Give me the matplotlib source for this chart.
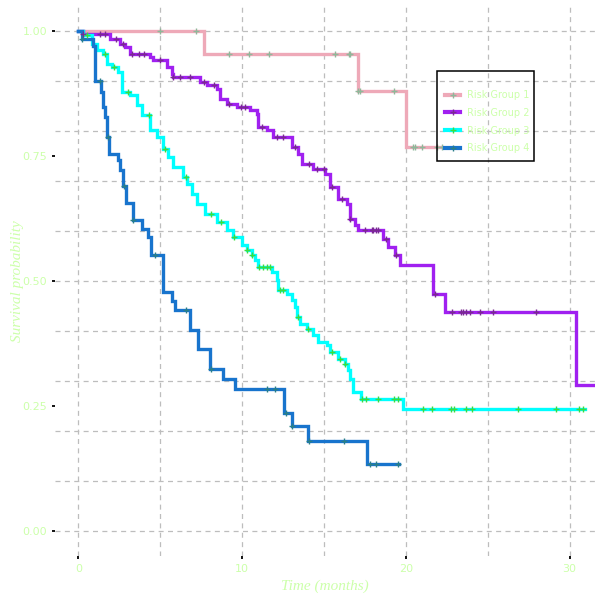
import numpy as np
import matplotlib
matplotlib.use("Agg")
import matplotlib.pyplot as plt
from matplotlib.ticker import MultipleLocator
from matplotlib.lines import Line2D
from matplotlib.patches import Rectangle

# ---------------- data ----------------
groups = ["Risk Group 1", "Risk Group 2", "Risk Group 3", "Risk Group 4"]

g1_time = [0, 7.67, 17.06, 19.99]
g1_surv = [1.0, 0.954, 0.88, 0.768]
g1_end = 22.2
g1_cens = [4.98, 7.18, 9.2, 10.4, 11.65, 15.7, 16.5, 16.6, 17.08, 17.2, 19.3,
           20.46, 20.55, 20.97, 21.9, 22.2]

g2_time = [0, 0.25, 1.93, 2.54, 2.85, 3.15, 4.37, 4.58, 5.39, 5.7, 5.8, 7.43, 7.84,
           8.45, 8.65, 9.06, 9.67, 10.48, 10.89, 10.99, 11.5, 11.9, 13.03, 13.43,
           13.64, 14.35, 15.07, 15.37, 15.88, 16.39, 16.59, 16.9, 17.1, 18.63,
           18.93, 19.34, 19.65, 21.68, 22.4, 30.4]
g2_surv = [1.0, 0.995, 0.985, 0.975, 0.969, 0.955, 0.949, 0.942, 0.929, 0.915, 0.909,
           0.899, 0.892, 0.885, 0.865, 0.855, 0.849, 0.842, 0.835, 0.809, 0.802,
           0.789, 0.769, 0.755, 0.735, 0.725, 0.715, 0.689, 0.665, 0.655, 0.625,
           0.612, 0.602, 0.585, 0.569, 0.552, 0.532, 0.475, 0.439, 0.292]
g2_end = 31.6
g2_cens = [0.3, 1.3, 1.6, 2.3, 2.7, 3.3, 3.7, 4.0, 5.0, 5.8, 6.2, 6.8, 7.7, 8.3, 9.2,
           9.9, 10.2, 11.2, 12.1, 12.5, 13.2, 14.1, 14.6, 15.0, 15.5, 16.1, 16.6,
           17.5, 17.9, 18.0, 18.2, 18.3, 18.8, 19.4, 21.8, 22.8, 23.37, 23.47,
           23.68, 23.92, 24.53, 25.3, 27.95]

g3_time = [0, 0.3, 0.81, 1.11, 1.52, 1.73, 2.03, 2.44, 2.65, 3.15, 3.56, 3.87, 4.37,
           4.78, 5.19, 5.49, 5.8, 6.41, 6.62, 6.92, 7.23, 7.73, 8.45, 9.06, 9.46,
           9.98, 10.28, 10.59, 10.79, 10.99, 11.8, 12.1, 12.2, 12.72, 13.03, 13.23,
           13.34, 13.54, 13.95, 14.35, 14.65, 15.17, 15.37, 15.88, 16.29, 16.49,
           16.59, 16.8, 17.26, 19.85]
g3_surv = [1.0, 0.992, 0.975, 0.962, 0.955, 0.935, 0.929, 0.919, 0.879, 0.872, 0.852,
           0.832, 0.802, 0.789, 0.765, 0.749, 0.729, 0.709, 0.695, 0.675, 0.655,
           0.635, 0.619, 0.602, 0.589, 0.572, 0.562, 0.552, 0.542, 0.529, 0.519,
           0.502, 0.482, 0.475, 0.462, 0.449, 0.429, 0.415, 0.405, 0.392, 0.379,
           0.372, 0.359, 0.345, 0.335, 0.322, 0.305, 0.279, 0.264, 0.244]
g3_end = 30.95
g3_cens = [0.5, 1.6, 2.2, 3.0, 4.3, 5.3, 6.6, 8.1, 8.7, 9.5, 10.3, 10.6, 11.0, 11.3,
           11.5, 11.7, 12.3, 12.5, 13.4, 14.0, 15.5, 16.0, 16.3, 17.3, 17.57, 18.28,
           19.3, 19.5, 21.03, 21.58, 22.76, 22.94, 23.66, 24.06, 26.87, 29.17, 30.6,
           30.8]

g4_time = [0, 0.2, 0.87, 1.0, 1.36, 1.52, 1.62, 1.73, 1.87, 2.44, 2.54, 2.74, 2.9,
           3.32, 3.87, 4.27, 4.43, 5.15, 5.7, 5.9, 6.8, 7.32, 8.04, 8.81, 9.57,
           12.58, 13.07, 14.05, 17.61]
g4_surv = [1.0, 0.985, 0.97, 0.90, 0.879, 0.849, 0.829, 0.788, 0.755, 0.742, 0.723,
           0.69, 0.657, 0.623, 0.605, 0.589, 0.552, 0.479, 0.461, 0.442, 0.402,
           0.365, 0.325, 0.304, 0.285, 0.237, 0.211, 0.181, 0.135]
g4_end = 19.58
g4_cens = [0.2, 1.32, 1.83, 2.8, 3.35, 4.68, 6.55, 8.08, 11.5, 12.0, 12.68, 13.07,
           14.1, 16.2, 17.8, 18.2, 19.54]

x_ticks = [0, 10, 20, 30]
y_ticks = [0.0, 0.25, 0.50, 0.75, 1.00]
y_ticklabels = ["0.00", "0.25", "0.50", "0.75", "1.00"]

# ---------------- style ----------------
line_colors = ["#EEA9B8", "#A020F0", "#00FFFF", "#1874CD"]
cens_colors = ["#8fb89a", "#7a2a90", "#3ddc3d", "#2a7f86"]
text_color = "#ccffaa"

series = [
    (g1_time, g1_surv, g1_end, g1_cens),
    (g2_time, g2_surv, g2_end, g2_cens),
    (g3_time, g3_surv, g3_end, g3_cens),
    (g4_time, g4_surv, g4_end, g4_cens),
]

fig = plt.figure(figsize=(6, 6), dpi=100)
W, H = 600, 600
ax = fig.add_axes([55 / W, 1 - 556 / H, (595 - 55) / W, (556 - 6) / H])
ax.set_facecolor("none")
fig.patch.set_facecolor("white")

for (t, s, end, cens), lc, cc in zip(series, line_colors, cens_colors):
    tt = np.array(list(t) + [end])
    ss = np.array(list(s) + [s[-1]])
    ax.step(tt, ss, where="post", color=lc, lw=2.4, zorder=3, solid_joinstyle="miter")
    c = np.array(cens)
    idx = np.searchsorted(np.array(t), c, side="right") - 1
    cy = np.array(s)[idx]
    ax.plot(c, cy, linestyle="none", marker="+", ms=5, mew=1.0, color=cc, zorder=4)

ax.set_xlim(-1.43, 31.55)
ax.set_ylim(-0.05, 1.05)

ax.set_xticks(x_ticks)
ax.set_xticklabels([str(v) for v in x_ticks])
ax.set_yticks(y_ticks)
ax.set_yticklabels(y_ticklabels)
ax.xaxis.set_minor_locator(MultipleLocator(5))
ax.yaxis.set_minor_locator(MultipleLocator(0.1))
ax.xaxis.remove_overlapping_locs = False
ax.yaxis.remove_overlapping_locs = False
ax.grid(False, which="major")
ax.grid(True, which="minor", color="#bdbdbd", linestyle=(0, (4, 3.5)), lw=0.9)
ax.set_axisbelow(True)

ax.tick_params(which="minor", length=0)
ax.tick_params(which="major", length=2.5, width=1.3, color="black",
               labelcolor=text_color, labelsize=8, pad=3)
for sp in ax.spines.values():
    sp.set_visible(False)

ax.set_xlabel("Time (months)", color=text_color, fontsize=11, style="italic",
              family="Liberation Serif", labelpad=4)
ax.set_ylabel("Survival probability", color=text_color, fontsize=11, style="italic",
              family="Liberation Serif", labelpad=-1)

# legend
handles = [Line2D([0], [0], color=lc, lw=3, marker="+", ms=5, mew=1.0,
                  markeredgecolor=cc)
           for lc, cc in zip(line_colors, cens_colors)]
leg = fig.legend(handles, groups, loc="upper left",
                 bbox_to_anchor=(445 / W, 1 - 90 / H), frameon=False,
                 fontsize=7, labelcolor=text_color, handlelength=1.55,
                 handletextpad=0.69, labelspacing=0.8, borderpad=0.0,
                 borderaxespad=0.0)
fig.add_artist(Rectangle((437.3 / W, 1 - 161.3 / H), (534.3 - 437.3) / W,
                         (161.3 - 70.7) / H, transform=fig.transFigure,
                         fill=False, edgecolor="black", lw=1.1))

fig.savefig("out.png", dpi=100)
